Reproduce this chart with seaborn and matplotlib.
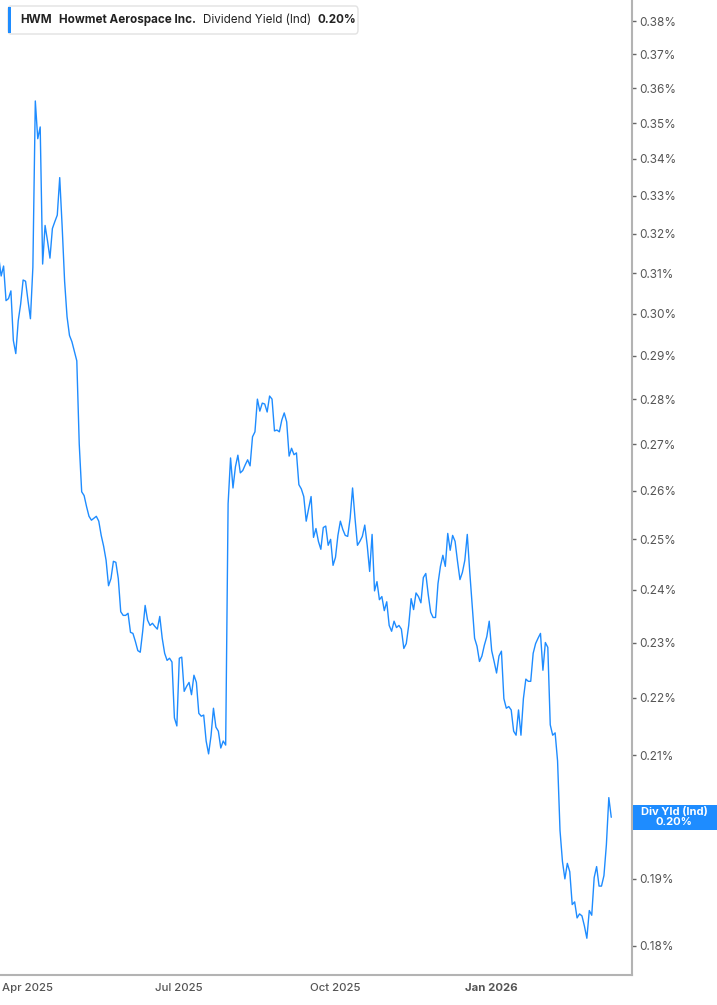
import pandas as pd
import numpy as np
import matplotlib
matplotlib.use('Agg')
import matplotlib.pyplot as plt
import seaborn as sns
from matplotlib.ticker import FixedLocator, FuncFormatter, NullLocator
from matplotlib.patches import FancyBboxPatch, Rectangle
from pandas.tseries.offsets import CustomBusinessDay

# ── Data (dividend yield, %, one value per trading day) ───────────
TICKER = 'HWM'
COMPANY = 'Howmet Aerospace Inc.'
METRIC = 'Dividend Yield (Ind)'
SHORT_METRIC = 'Div Yld (Ind)'

START_DATE = '2025-03-14'
HOLIDAYS = ['2025-04-18', '2025-05-26', '2025-06-19', '2025-07-04', '2025-09-01',
            '2025-11-27', '2025-12-25', '2026-01-01', '2026-01-19', '2026-02-16']

div_yield = [
    # Mar - Apr 2025
    0.3141, 0.3093, 0.3118, 0.3032, 0.3037, 0.3056, 0.2936, 0.2905, 0.2983, 0.3024,
    0.3083, 0.3080, 0.3032, 0.2988, 0.3115, 0.3563, 0.3456, 0.3489, 0.3123, 0.3222,
    0.3182, 0.3138, 0.3214, 0.3232, 0.3249, 0.3349, 0.3219, 0.3080, 0.2993, 0.2948,
    0.2933, 0.2910, 0.2888, 0.2700, 0.2598, 0.2590, 0.2567, 0.2547, 0.2539, 0.2543,
    0.2547, 0.2537,
    # May - Jul 2025
    0.2508, 0.2486, 0.2458, 0.2408, 0.2422, 0.2456, 0.2454, 0.2422, 0.2358, 0.2351,
    0.2351, 0.2355, 0.2319, 0.2317, 0.2302, 0.2285, 0.2282, 0.2321, 0.2370, 0.2342,
    0.2332, 0.2336, 0.2330, 0.2325, 0.2349, 0.2308, 0.2280, 0.2267, 0.2271, 0.2264,
    0.2164, 0.2150, 0.2271, 0.2273, 0.2211, 0.2220, 0.2227, 0.2205, 0.2240, 0.2227,
    0.2172, 0.2167, 0.2169, 0.2124, 0.2102, 0.2133, 0.2181, 0.2148, 0.2141, 0.2112,
    0.2124, 0.2117,
    # Aug - Oct 2025
    0.2573, 0.2670, 0.2606, 0.2651, 0.2676, 0.2638, 0.2643, 0.2655, 0.2666, 0.2653,
    0.2716, 0.2727, 0.2800, 0.2773, 0.2791, 0.2789, 0.2771, 0.2807, 0.2800, 0.2729,
    0.2731, 0.2727, 0.2753, 0.2769, 0.2749, 0.2674, 0.2691, 0.2677, 0.2681, 0.2613,
    0.2604, 0.2588, 0.2537, 0.2563, 0.2588, 0.2504, 0.2522, 0.2496, 0.2480, 0.2524,
    0.2527, 0.2488, 0.2500, 0.2448, 0.2464, 0.2508, 0.2537, 0.2520, 0.2508, 0.2506,
    0.2543, 0.2606,
    # Oct - Dec 2025
    0.2543, 0.2488, 0.2496, 0.2506, 0.2529, 0.2488, 0.2436, 0.2510, 0.2398, 0.2416,
    0.2381, 0.2387, 0.2360, 0.2377, 0.2332, 0.2321, 0.2340, 0.2328, 0.2332, 0.2325,
    0.2289, 0.2298, 0.2332, 0.2383, 0.2362, 0.2394, 0.2387, 0.2375, 0.2424, 0.2432,
    0.2391, 0.2357, 0.2347, 0.2347, 0.2412, 0.2446, 0.2468, 0.2446, 0.2512, 0.2478,
    0.2508, 0.2496, 0.2456, 0.2420, 0.2434, 0.2458, 0.2510, 0.2436, 0.2370, 0.2308,
    0.2293, 0.2265, 0.2275, 0.2295, 0.2311, 0.2340,
    # Jan - Mar 2026
    0.2285, 0.2265, 0.2244, 0.2275, 0.2284, 0.2198, 0.2181, 0.2184, 0.2178, 0.2141,
    0.2134, 0.2178, 0.2134, 0.2198, 0.2233, 0.2229, 0.2229, 0.2280, 0.2298, 0.2308,
    0.2317, 0.2249, 0.2300, 0.2291, 0.2152, 0.2134, 0.2138, 0.2090, 0.1976, 0.1927,
    0.1900, 0.1924, 0.1911, 0.1861, 0.1865, 0.1841, 0.1847, 0.1844, 0.1829, 0.1811,
    0.1852, 0.1845, 0.1902, 0.1919, 0.1889, 0.1889, 0.1905, 0.1953, 0.2029, 0.1997,
]

Y_TICKS = [0.18, 0.19, 0.20, 0.21, 0.22, 0.23, 0.24, 0.25, 0.26, 0.27, 0.28,
           0.29, 0.30, 0.31, 0.32, 0.33, 0.34, 0.35, 0.36, 0.37, 0.38]
X_TICK_MONTHS = ['2025-04', '2025-07', '2025-10', '2026-01']
X_TICK_LABELS = ['Apr 2025', 'Jul 2025', 'Oct 2025', 'Jan 2026']

# ── Build frame ───────────────────────────────────────────────────
dates = pd.date_range(START_DATE, periods=len(div_yield),
                      freq=CustomBusinessDay(holidays=HOLIDAYS))
df = pd.DataFrame({'date': dates, 'pos': np.arange(len(div_yield)), 'yield': div_yield})
months = df['date'].dt.strftime('%Y-%m')
tick_pos = [df.loc[months == m, 'pos'].iloc[0] for m in X_TICK_MONTHS]
last_label = f'{div_yield[-1]:.2f}%'

# ── Style ─────────────────────────────────────────────────────────
sns.set_style('white')
plt.rcParams['font.family'] = ['Inter', 'DejaVu Sans']

BLUE = '#1e8cff'
W, H = 717, 1005
fig = plt.figure(figsize=(W / 100, H / 100), dpi=100)
ax = fig.add_axes([0, 30 / H, 632 / W, 975 / H])

sns.lineplot(data=df, x='pos', y='yield', ax=ax, color=BLUE, linewidth=1.0)

ax.set_yscale('log')
ax.set_ylim(0.1758, 0.3866)
ax.set_xlim(0.53, 259.5)
ax.set_xlabel('')
ax.set_ylabel('')


def pct(v, _):
    # the tick hidden behind the last-value tag gets no label
    s = f'{v:.2f}%'
    return '' if s == last_label else s


ax.yaxis.set_major_locator(FixedLocator(Y_TICKS))
ax.yaxis.set_minor_locator(NullLocator())
ax.yaxis.set_major_formatter(FuncFormatter(pct))
ax.yaxis.tick_right()
ax.tick_params(axis='y', length=3, width=1, color='#666666', pad=2.5,
               labelsize=8.5, labelcolor='#555555')

ax.set_xticks(tick_pos)
ax.set_xticklabels(X_TICK_LABELS)
ax.tick_params(axis='x', length=3, width=1, color='#999999', pad=3,
               labelsize=8.2, labelcolor='#555555')
for lab in ax.get_xticklabels():
    lab.set_fontweight('bold' if lab.get_text().startswith('Jan') else 'medium')

for side in ['left', 'top']:
    ax.spines[side].set_visible(False)
for side in ['right', 'bottom']:
    ax.spines[side].set_color('#b3b3b3')
    ax.spines[side].set_linewidth(1.5)

# ── Header box (top-left) ─────────────────────────────────────────
fig.patches.append(FancyBboxPatch((8 / W, 1 - 34 / H), 350 / W, 28 / H,
                                  boxstyle='round,pad=0,rounding_size=0.004',
                                  fc='white', ec='#e2e2e2', lw=1,
                                  transform=fig.transFigure, zorder=5))
fig.patches.append(Rectangle((8 / W, 1 - 33 / H), 3 / W, 26 / H, fc=BLUE, ec='none',
                             transform=fig.transFigure, zorder=6))

renderer = fig.canvas.get_renderer()
pieces = [(TICKER, 'bold'), (COMPANY, 'bold'), (METRIC, 'normal'), (last_label, 'bold')]
x_px = 20
for txt, wt in pieces:
    t = fig.text(x_px / W, 1 - 20 / H, txt, fontsize=8.4, fontweight=wt,
                 color='#222222', va='center', ha='left', zorder=7)
    x_px += t.get_window_extent(renderer=renderer).width + 7

# ── Last value tag on the right axis ──────────────────────────────
last_y = ax.transData.transform((0, div_yield[-1]))[1]
tag_h = 25
fig.patches.append(Rectangle((633 / W, (last_y - tag_h / 2) / H), (W - 633) / W, tag_h / H,
                             fc=BLUE, ec='none', transform=fig.transFigure, zorder=5))
fig.text(674 / W, last_y / H, f'{SHORT_METRIC}\n{last_label}', fontsize=8,
         fontweight='bold', color='white', ha='center', va='center',
         linespacing=1.0, zorder=7)

fig.savefig('out.png', dpi=100)
plt.close(fig)
